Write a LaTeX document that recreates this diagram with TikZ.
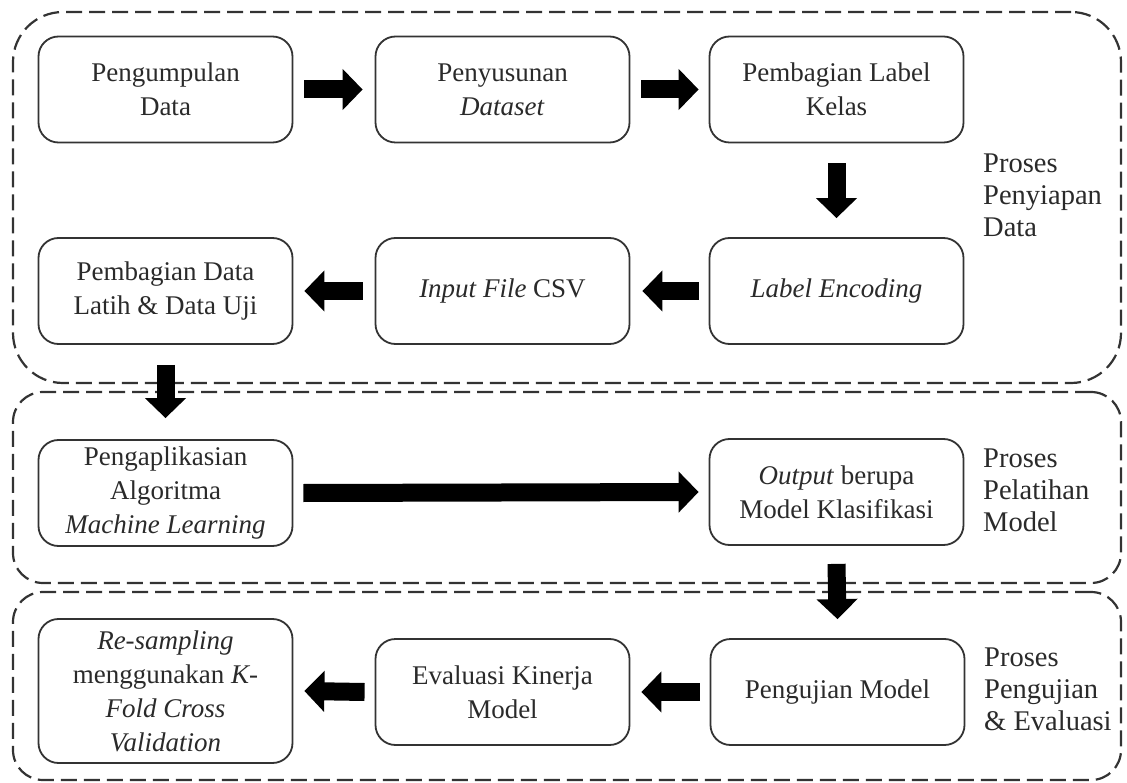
\documentclass[tikz,border=0pt]{standalone}
\usepackage{fontspec}
\setmainfont{Liberation Serif}
\usetikzlibrary{arrows.meta}
\definecolor{txt}{HTML}{2A2A2A}
\definecolor{edge}{HTML}{333333}
\tikzset{
  stepbox/.style={draw=edge, line width=1.8pt, rounded corners=20pt, minimum width=254pt, minimum height=106pt, inner sep=0pt, align=center, text=txt, font=\fontsize{27}{34}\selectfont},
  region/.style={draw=edge, line width=2.2pt, dash pattern=on 16pt off 7pt, inner sep=0pt},
  sidelabel/.style={anchor=west, inner sep=0pt, align=left, text=txt, font=\fontsize{28.5}{32}\selectfont},
  fatarrow/.style={line width=18pt, black, -{Triangle[length=20pt,width=40pt]}},
}
\begin{document}
\begin{tikzpicture}[x=1pt,y=-1pt]
\useasboundingbox (0,0) rectangle (1127,783);
% regions
\node (r1) [region, rounded corners=50pt, minimum width=1108pt, minimum height=371pt] at (567,197.5) {};
\node (r2) [region, rounded corners=30pt, minimum width=1108pt, minimum height=191pt] at (567,487.5) {};
\node (r3) [region, rounded corners=30pt, minimum width=1108pt, minimum height=188pt] at (567,686) {};
% boxes
\node (b1) [stepbox] at (165.5,89.5) {Pengumpulan\\Data};
\node (b2) [stepbox] at (502.5,89.5) {Penyusunan\\\textit{Dataset}};
\node (b3) [stepbox] at (836.5,89.5) {Pembagian Label\\Kelas};
\node (b4) [stepbox] at (165.5,291) {Pembagian Data\\Latih \& Data Uji};
\node (b5) [stepbox] at (502.5,291) {\textit{Input File} CSV};
\node (b6) [stepbox] at (836.5,291) {\textit{Label Encoding}};
\node (b7) [stepbox] at (165.5,493) {Pengaplikasian\\Algoritma\\\textit{Machine Learning}};
\node (b8) [stepbox] at (836.5,492) {\textit{Output} berupa\\Model Klasifikasi};
\node (b9) [stepbox, minimum height=144pt] at (165.5,691) {\textit{Re-sampling}\\menggunakan \textit{K-}\\\textit{Fold Cross}\\\textit{Validation}};
\node (b10) [stepbox] at (502.5,692) {Evaluasi Kinerja\\Model};
\node (b11) [stepbox] at (837.5,692) {Pengujian Model};
% side labels
\node (l1) [sidelabel] at (983,195) {Proses\\Penyiapan\\Data};
\node (l2) [sidelabel] at (983,490) {Proses\\Pelatihan\\Model};
\node (l3) [sidelabel] at (984,689) {Proses\\Pengujian\\\& Evaluasi};
% arrows
\draw[fatarrow] ([xshift=11pt]b1.east) -- ([xshift=-12pt]b2.west);
\draw[fatarrow] ([xshift=11pt]b2.east) -- ([xshift=-10pt]b3.west);
\draw[fatarrow] ([yshift=-20pt]b3.south) -- ([yshift=19pt]b6.north);
\draw[fatarrow] ([xshift=-10pt]b6.west) -- ([xshift=12pt]b5.east);
\draw[fatarrow] ([xshift=-12pt]b5.west) -- ([xshift=11pt]b4.east);
\draw[fatarrow] ([yshift=-20pt]b4.south) -- ([yshift=21pt]b7.north);
\draw[fatarrow] ([xshift=10pt]b7.east) -- ([xshift=-10pt]b8.west);
\draw[fatarrow] ([yshift=-18pt]b8.south) -- ([yshift=19pt]b11.north);
\draw[fatarrow] ([xshift=-10pt]b11.west) -- ([xshift=11pt]b10.east);
\draw[fatarrow] ([xshift=-10pt]b10.west) -- ([xshift=11pt]b9.east);
\end{tikzpicture}
\end{document}
